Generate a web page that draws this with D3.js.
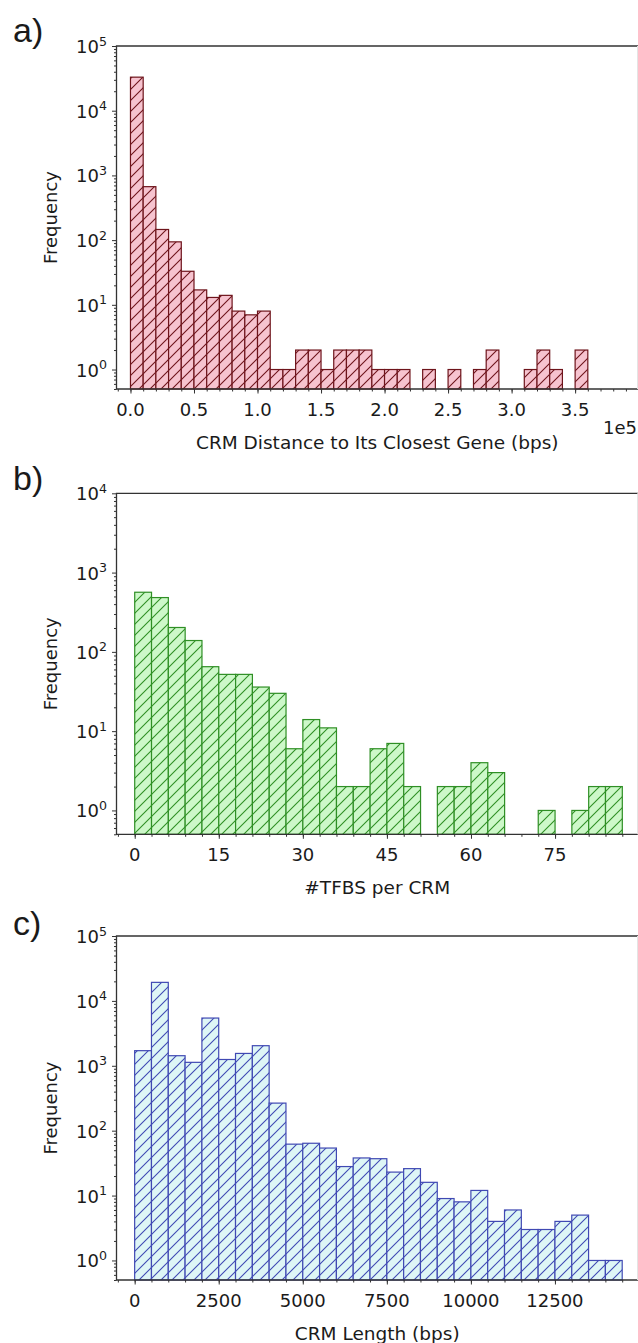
<!DOCTYPE html>
<html>
<head>
<meta charset="utf-8">
<script src="https://cdn.jsdelivr.net/npm/d3@7"></script>
<style>
	body { margin: 0; background: #fff; }
	svg text { font-family: 'DejaVu Sans', sans-serif; fill: #1a1a1a; }
</style>
</head>
<body>
<div id="chart"></div>
<script>
// a) CRM distance to its closest gene, bins of 10 kbp from 0
const distCounts = [33000, 670, 146, 94, 33, 17, 13, 14, 8, 7, 8, 1, 1, 2, 2, 1, 2, 2,
	2, 1, 1, 1, 0, 1, 0, 1, 0, 1, 2, 0, 0, 1, 2, 1, 0, 2];
const distBinWidth = 10000;
const distTicks = [0, 50000, 100000, 150000, 200000, 250000, 300000, 350000];
const distTickLabels = ['0.0', '0.5', '1.0', '1.5', '2.0', '2.5', '3.0', '3.5'];

// b) number of TFBS per CRM, bins of 3
const tfbsCounts = [565, 484, 203, 139, 65, 52, 52, 36, 30, 6, 14, 11, 2, 2, 6, 7, 2, 0,
	2, 2, 4, 3, 0, 0, 1, 0, 1, 2, 2];
const tfbsBinWidth = 3;
const tfbsTicks = [0, 15, 30, 45, 60, 75];

// c) CRM length, bins of 500 bps
const lengthCounts = [1710, 19300, 1430, 1130, 5440, 1250, 1550, 2040, 266, 62, 64, 54,
	28, 38, 37, 23, 26, 16, 9, 8, 12, 4, 6, 3, 3, 4, 5, 1, 1];
const lengthBinWidth = 500;
const lengthTicks = [0, 2500, 5000, 7500, 10000, 12500];

const width = 638,
	height = 1343;

const svg = d3
	.select('#chart')
	.append('svg')
	.attr('width', width)
	.attr('height', height);

const defs = svg.append('defs');

const panels = [
	{
		id: 'a', letter: 'a)', letterY: 42,
		counts: distCounts, binWidth: distBinWidth,
		ticks: distTicks, tickLabels: distTickLabels, minorStep: 10000,
		xDomain: [-11000, 399500], yMax: 1e5,
		top: 46, bottom: 389,
		fill: '#f6c3cf', stroke: '#6e141b',
		xLabel: 'CRM Distance to Its Closest Gene (bps)', offsetText: '1e5',
	},
	{
		id: 'b', letter: 'b)', letterY: 490,
		counts: tfbsCounts, binWidth: tfbsBinWidth,
		ticks: tfbsTicks, tickLabels: tfbsTicks.map(String), minorStep: 3,
		xDomain: [-3.25, 89.8], yMax: 1e4,
		top: 493.3, bottom: 834.3,
		fill: '#cdf8c9', stroke: '#2f8f25',
		xLabel: '#TFBS per CRM', offsetText: null,
	},
	{
		id: 'c', letter: 'c)', letterY: 935,
		counts: lengthCounts, binWidth: lengthBinWidth,
		ticks: lengthTicks, tickLabels: lengthTicks.map(String), minorStep: 500,
		xDomain: [-540, 14970], yMax: 1e5,
		top: 936, bottom: 1280,
		fill: '#def6f6', stroke: '#4049b3',
		xLabel: 'CRM Length (bps)', offsetText: null,
	},
];

const left = 116.5,
	right = 638;
const spineColor = '#333';

panels.forEach(function (p) {
	const g = svg.append('g');

	// hatch pattern in the edge colour
	const pat = defs
		.append('pattern')
		.attr('id', 'hatch-' + p.id)
		.attr('patternUnits', 'userSpaceOnUse')
		.attr('width', 11)
		.attr('height', 11);
	pat
		.append('path')
		.attr('d', 'M-2,2 l4,-4 M0,11 l11,-11 M9,13 l4,-4')
		.attr('stroke', p.stroke)
		.attr('stroke-width', 1.1);

	const x = d3.scaleLinear().domain(p.xDomain).range([left, right]);
	const y = d3.scaleLog().domain([0.5, p.yMax]).range([p.bottom, p.top]);

	const bins = p.counts
		.map((c, i) => ({ x0: i * p.binWidth, x1: (i + 1) * p.binWidth, count: c }))
		.filter((d) => d.count > 0);

	// bars: fill, hatch, edge
	const bars = g.selectAll('g.bar').data(bins).join('g').attr('class', 'bar');
	bars
		.append('rect')
		.attr('x', (d) => x(d.x0))
		.attr('width', (d) => x(d.x1) - x(d.x0))
		.attr('y', (d) => y(d.count))
		.attr('height', (d) => p.bottom - y(d.count))
		.attr('fill', p.fill);
	bars
		.append('rect')
		.attr('x', (d) => x(d.x0))
		.attr('width', (d) => x(d.x1) - x(d.x0))
		.attr('y', (d) => y(d.count))
		.attr('height', (d) => p.bottom - y(d.count))
		.attr('fill', `url(#hatch-${p.id})`)
		.attr('stroke', p.stroke)
		.attr('stroke-width', 1.2);

	// minor ticks
	const minorX = d3.range(Math.ceil(p.xDomain[0] / p.minorStep) * p.minorStep, p.xDomain[1], p.minorStep);
	g.append('g')
		.attr('transform', `translate(0, ${p.bottom})`)
		.call(d3.axisBottom(x).tickValues(minorX).tickSize(2.5).tickFormat(''))
		.call((a) => a.select('.domain').remove());

	const minorY = [];
	for (let e = -1; e < Math.log10(p.yMax); e++) {
		for (let m = 2; m <= 9; m++) {
			const v = m * Math.pow(10, e);
			if (v >= 0.5 && v <= p.yMax) minorY.push(v);
		}
	}
	g.append('g')
		.attr('transform', `translate(${left}, 0)`)
		.call(d3.axisLeft(y).tickValues(minorY).tickSize(2.5).tickFormat(''))
		.call((a) => a.select('.domain').remove());

	// major ticks
	g.append('g')
		.attr('transform', `translate(0, ${p.bottom})`)
		.call(d3.axisBottom(x).tickValues(p.ticks).tickSize(4.5).tickFormat(''))
		.call((a) => a.select('.domain').remove());

	const majorY = d3.range(0, Math.log10(p.yMax) + 1).map((e) => Math.pow(10, e));
	g.append('g')
		.attr('transform', `translate(${left}, 0)`)
		.call(d3.axisLeft(y).tickValues(majorY).tickSize(4.5).tickFormat(''))
		.call((a) => a.select('.domain').remove());

	g.selectAll('.tick line').attr('stroke', spineColor).attr('stroke-width', 1);

	// spines (right one is cut by the image edge, so only a faint line)
	g.append('path')
		.attr('d', `M${right},${p.top}H${left}V${p.bottom}H${right}`)
		.attr('fill', 'none')
		.attr('stroke', spineColor)
		.attr('stroke-width', 1.3);
	g.append('line')
		.attr('x1', right - 0.5)
		.attr('x2', right - 0.5)
		.attr('y1', p.top)
		.attr('y2', p.bottom)
		.attr('stroke', '#e4e4e4')
		.attr('stroke-width', 1);

	// x tick labels
	g.selectAll('text.xtick')
		.data(p.ticks)
		.join('text')
		.attr('class', 'xtick')
		.attr('x', (d) => x(d))
		.attr('y', p.bottom + 26.5)
		.attr('text-anchor', 'middle')
		.attr('font-size', 18)
		.text((d, i) => p.tickLabels[i]);

	// y tick labels: 10 with superscript exponent
	const yl = g
		.selectAll('text.ytick')
		.data(majorY)
		.join('text')
		.attr('class', 'ytick')
		.attr('x', 107)
		.attr('y', (d) => y(d) + 7)
		.attr('text-anchor', 'end')
		.attr('font-size', 18);
	yl.append('tspan').text('10');
	yl.append('tspan')
		.attr('font-size', 12.6)
		.attr('dy', -7.5)
		.text((d) => Math.round(Math.log10(d)));

	// axis labels
	g.append('text')
		.attr('x', (left + right) / 2)
		.attr('y', p.bottom + 60)
		.attr('text-anchor', 'middle')
		.attr('font-size', 18.5)
		.text(p.xLabel);

	g.append('text')
		.attr('transform', `translate(57, ${(p.top + p.bottom) / 2}) rotate(-90)`)
		.attr('text-anchor', 'middle')
		.attr('font-size', 18)
		.text('Frequency');

	if (p.offsetText) {
		g.append('text')
			.attr('x', 637)
			.attr('y', p.bottom + 45)
			.attr('text-anchor', 'end')
			.attr('font-size', 18)
			.text(p.offsetText);
	}

	// panel letter
	svg.append('text')
		.attr('x', 13)
		.attr('y', p.letterY)
		.style('font-family', "'Liberation Sans', Arial, sans-serif")
		.attr('font-size', 34)
		.text(p.letter);
});
</script>
</body>
</html>
